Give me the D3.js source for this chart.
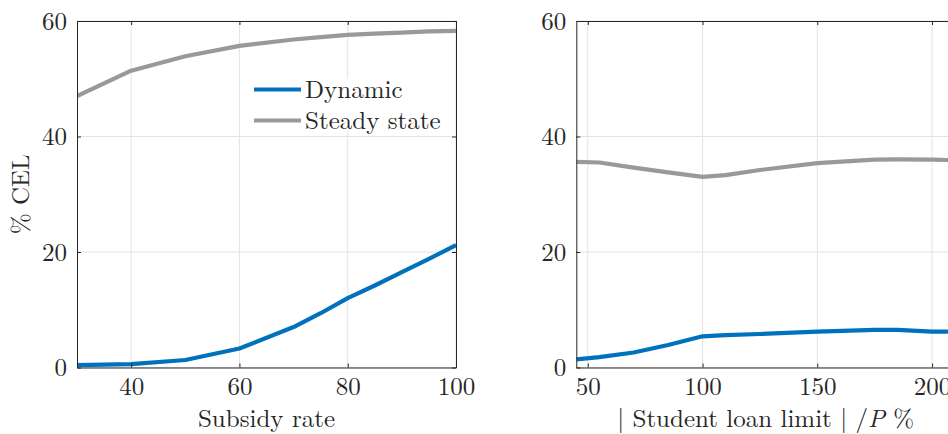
<!DOCTYPE html>
<html>
<head>
<meta charset="utf-8">
<script src="https://cdn.jsdelivr.net/npm/d3@7"></script>
<style>
  html, body { margin: 0; padding: 0; background: #fff; }
  svg { display: block; }
  text { font-family: "Latin Modern Roman", "CMU Serif", "Liberation Serif", serif; fill: #262626; }
</style>
</head>
<body>
<svg id="chart" width="948" height="434"></svg>
<script>
// Left panel: CEL against the subsidy rate
const subsidyRate = [30, 40, 50, 60, 70, 75, 80, 85, 90, 95, 100];
const subsidyDynamic = [0.4, 0.6, 1.3, 3.3, 7.0, 9.4, 12.0, 14.2, 16.5, 18.8, 21.2];
const subsidySteady = [47.0, 51.4, 53.9, 55.7, 56.8, 57.2, 57.6, 57.8, 58.0, 58.2, 58.3];

// Right panel: CEL against the student loan limit
const loanLimit = [45, 55, 70, 85, 100, 110, 125, 150, 175, 185, 200, 210];
const loanDynamic = [1.4, 1.8, 2.6, 3.9, 5.4, 5.6, 5.8, 6.2, 6.5, 6.5, 6.2, 6.2];
const loanSteady = [35.6, 35.5, 34.6, 33.8, 33.0, 33.3, 34.2, 35.4, 36.0, 36.05, 36.0, 35.9];

const yTicks = [0, 20, 40, 60];
const subsidyTicks = [40, 60, 80, 100];
const loanTicks = [50, 100, 150, 200];

const seriesNames = ["Dynamic", "Steady state"];
const seriesColors = ["#0072BD", "#999999"];

const svg = d3.select("#chart");
const plotTop = 21, plotBottom = 367.5;
const fontSize = 25;
const axisColor = "#262626";
const gridColor = "#e3e3e3";

const y = d3.scaleLinear().domain([0, 60]).range([plotBottom, plotTop]);

function panel(id, xDomain, xRange, xs, dyn, ss, xTicks, xLabel, ylabel, withLegend) {
  const x = d3.scaleLinear().domain(xDomain).range(xRange);
  const g = svg.append("g").attr("class", id);
  const [x0, x1] = xRange;

  g.append("clipPath").attr("id", "clip-" + id)
    .append("rect").attr("x", x0).attr("y", plotTop).attr("width", x1 - x0).attr("height", plotBottom - plotTop);

  // grid
  g.append("g").selectAll("line").data(xTicks).join("line")
    .attr("x1", d => x(d)).attr("x2", d => x(d)).attr("y1", plotTop).attr("y2", plotBottom)
    .attr("stroke", gridColor).attr("stroke-width", 1);
  g.append("g").selectAll("line").data(yTicks).join("line")
    .attr("x1", x0).attr("x2", x1).attr("y1", d => y(d)).attr("y2", d => y(d))
    .attr("stroke", gridColor).attr("stroke-width", 1);

  // series
  const line = d3.line().x((d, i) => x(xs[i])).y(d => y(d));
  const plot = g.append("g").attr("clip-path", `url(#clip-${id})`);
  [dyn, ss].forEach((vals, k) => {
    plot.append("path").datum(vals).attr("d", line)
      .attr("fill", "none").attr("stroke", seriesColors[k])
      .attr("stroke-width", 4.2).attr("stroke-linejoin", "round");
  });

  // axes (ticks pointing inward, box on)
  const tl = 4;
  const bottomAxis = d3.axisBottom(x).tickValues(xTicks).tickSizeInner(-tl).tickSizeOuter(0).tickPadding(10);
  const topAxis = d3.axisTop(x).tickValues(xTicks).tickSizeInner(-tl).tickSizeOuter(0).tickFormat("");
  const leftAxis = d3.axisLeft(y).tickValues(yTicks).tickSizeInner(-tl).tickSizeOuter(0).tickPadding(10);
  const rightAxis = d3.axisRight(y).tickValues(yTicks).tickSizeInner(-tl).tickSizeOuter(0).tickFormat("");

  const styleAxis = sel => {
    sel.attr("font-family", null).attr("font-size", null);
    sel.select(".domain").attr("stroke", axisColor).attr("stroke-width", 1);
    sel.selectAll(".tick line").attr("stroke", axisColor);
    sel.selectAll(".tick text").attr("fill", axisColor).style("font-size", fontSize + "px");
  };

  g.append("g").attr("transform", `translate(0,${plotBottom})`).call(bottomAxis).call(styleAxis);
  g.append("g").attr("transform", `translate(0,${plotTop})`).call(topAxis).call(styleAxis);
  g.append("g").attr("transform", `translate(${x0},0)`).call(leftAxis).call(styleAxis);
  g.append("g").attr("transform", `translate(${x1},0)`).call(rightAxis).call(styleAxis);

  // x label
  const xl = g.append("text").attr("x", (x0 + x1) / 2).attr("y", 427)
    .attr("text-anchor", "middle").style("font-size", fontSize + "px");
  xLabel.forEach(part => {
    xl.append("tspan").text(part.t).style("font-style", part.italic ? "italic" : "normal");
  });

  if (ylabel) {
    g.append("text").attr("transform", `translate(29,${(plotTop + plotBottom) / 2}) rotate(-90)`)
      .attr("text-anchor", "middle").style("font-size", fontSize + "px").text(ylabel);
  }

  if (withLegend) {
    const lg = g.append("g");
    lg.append("rect").attr("x", 248).attr("y", 79).attr("width", 200).attr("height", 52).attr("fill", "#fff");
    seriesNames.forEach((name, i) => {
      const ly = 89.5 + i * 31;
      lg.append("line").attr("x1", 254).attr("x2", 301).attr("y1", ly).attr("y2", ly)
        .attr("stroke", seriesColors[i]).attr("stroke-width", 4.2);
      lg.append("text").attr("x", 305).attr("y", ly).attr("dy", "0.33em")
        .style("font-size", fontSize + "px").text(name);
    });
  }
}

panel("left", [30, 100], [77, 456], subsidyRate, subsidyDynamic, subsidySteady, subsidyTicks,
  [{ t: "Subsidy rate" }], "% CEL", true);
panel("right", [45, 210], [576.3, 955], loanLimit, loanDynamic, loanSteady, loanTicks,
  [{ t: "| Student loan limit | /" }, { t: "P", italic: true }, { t: " %" }], null, false);
</script>
</body>
</html>
